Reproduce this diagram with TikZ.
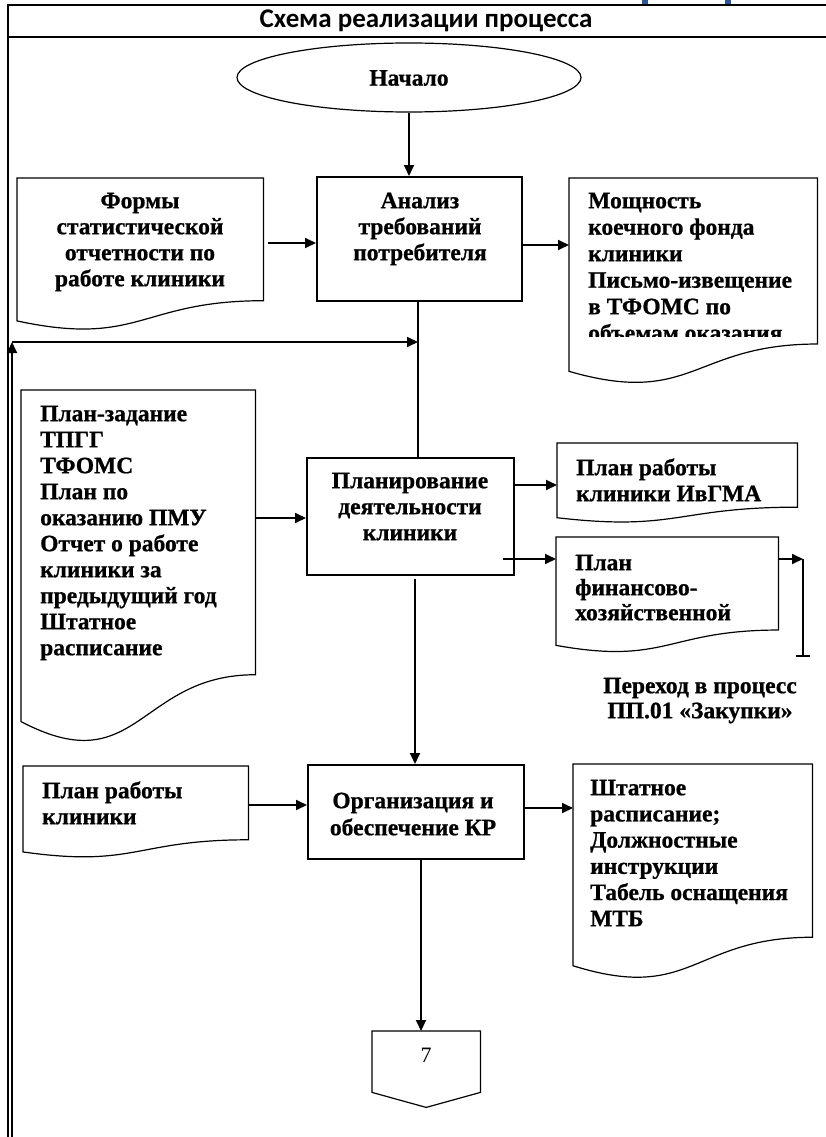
\documentclass[tikz,border=0pt]{standalone}
\usepackage{fontspec}
\setmainfont{Liberation Serif}[BoldFeatures={FakeBold=0.8}]
\newfontfamily\titlefont{Carlito}
\usetikzlibrary{arrows.meta,calc,shapes.geometric}
\definecolor{wordblue}{RGB}{47,85,151}
\newcommand{\tfont}[1]{\bfseries\fontsize{23.5}{#1}\selectfont\lineskiplimit=-30pt}
\newcommand{\fs}{\rule{0pt}{20pt}}
\tikzset{
 frame/.style={line width=2.2pt},
 conn/.style={line width=1.8pt},
 arr/.style={conn,-{Triangle[length=11pt,width=10pt]}},
 procbox/.style={draw,line width=1.5pt,inner sep=0pt},
 docline/.style={line width=1.2pt},
 tx/.style={inner sep=0pt,font=\tfont{26}},
}
\newcommand{\docshape}[5]{%
  \node[minimum width=#4pt,minimum height=#5pt,inner sep=0pt,anchor=north west] (#1) at (#2,#3) {};
  \draw[docline] (#1.north west) -- (#1.north east) -- ($(#1.north east)+(0,0.802*#5)$)
    .. controls ($(#1.north west)+(0.5*#4,0.802*#5)$) and ($(#1.north west)+(0.5*#4,1.107*#5)$) ..
    ($(#1.north west)+(0,0.934*#5)$) -- cycle;
}
\begin{document}
\begin{tikzpicture}[x=1pt,y=-1pt]
\useasboundingbox (0,0) rectangle (826,1137);
% blue fragments at top
\fill[wordblue] (642,0) rectangle (648,6);
\fill[wordblue] (725,0) rectangle (731,6);
% frame
\draw[frame] (826,5) -- (8,5) -- (8,1137);
\draw[frame] (8,37) -- (826,37);
\node[font=\titlefont\bfseries\fontsize{27}{30}\selectfont,inner sep=0pt] (title) at (426,21) {Схема реализации процесса};

% start
\node[draw,ellipse,line width=1.2pt,minimum width=344pt,minimum height=69pt,inner sep=0pt] (start) at (409,77.5) {};
\node[tx] (startt) at (409,78) {Начало};

% Analysis
\node[procbox,minimum width=205pt,minimum height=124pt,anchor=north west] (an) at (316,176) {};
\node[tx,align=center,anchor=north] (ant) at (420,188) {\fs Анализ\\требований\\потребителя};
\draw[arr] (start.south) -- (start.south |- an.north);

% doc1
\docshape{d1}{17}{178}{246}{153}
\node[tx,align=center,anchor=north] (d1t) at (140,188) {\fs Формы\\статистической\\отчетности по\\работе клиники};
\coordinate (a1s) at (268,243);
\draw[arr] (a1s) -- (a1s -| an.west);

% doc2
\docshape{d2}{569}{178}{248}{207}
\begin{scope}
\clip (569,178) rectangle (817,336);
\node[tx,align=left,anchor=north west,font=\tfont{26.5}] (d2t) at (588,188) {\fs Мощность\\коечного фонда\\клиники\\Письмо-извещение\\в ТФОМС по\\объемам оказания};
\end{scope}
\coordinate (a2s) at (an.east |- 0,245);
\draw[arr] (a2s) -- (a2s -| d2.west);

% feedback line
\coordinate (fbBot) at (12,1137);
\coordinate (fbTop) at (12,342);
\draw[arr] (fbBot) -- (fbTop);
\coordinate (vTop) at (418,300);
\coordinate (fbEnd) at (vTop |- fbTop);
\draw[arr] (fbTop) -- (fbEnd);

% Planning
\node[procbox,minimum width=207pt,minimum height=117pt,anchor=north west] (pl) at (306,457) {};
\node[tx,align=center,anchor=north] (plt) at (410,468) {\fs Планирование\\деятельности\\клиники};
\coordinate (vBot) at (vTop |- pl.north);
\draw[conn] (vTop) -- (vBot);

% doc3
\docshape{d3}{21}{390}{234}{355}
\node[tx,align=left,anchor=north west] (d3t) at (40,401) {\fs План-задание\\ТПГГ\\ТФОМС\\План по\\оказанию ПМУ\\Отчет о работе\\клиники за\\предыдущий год\\Штатное\\расписание};
\coordinate (a3s) at (255,518);
\draw[arr] (a3s) -- (a3s -| pl.west);

% doc4
\docshape{d4}{557}{443}{240}{80}
\node[tx,align=left,anchor=north west] (d4t) at (576,455) {\fs План работы\\клиники ИвГМА};
\coordinate (a4s) at (pl.east |- 0,485);
\draw[arr] (a4s) -- (a4s -| d4.west);

% doc5
\docshape{d5}{556}{537}{222}{116}
\node[tx,align=left,anchor=north west,font=\tfont{25}] (d5t) at (575,550) {\fs План\\финансово-\\хозяйственной};
\coordinate (a5s) at (503,559);
\draw[arr] (a5s) -- (a5s -| d5.west);
\coordinate (jmp) at (803,559);
\coordinate (jmpEnd) at (803,657);
\draw[arr] (d5.east |- jmp) -- (jmp);
\draw[conn,-{Bar[width=14pt]}] (jmp) -- (jmpEnd);
\node[tx,align=center,anchor=north,font=\tfont{25}] (jmpt) at (700,673) {\fs Переход в процесс\\ПП.01 «Закупки»};

% Organisation
\node[procbox,minimum width=216pt,minimum height=94pt,anchor=north west] (org) at (307,764) {};
\node[tx,align=center,anchor=north,font=\tfont{27}] (orgt) at (413,788) {\fs Организация и\\обеспечение КР};
\coordinate (a6s) at (415,579);
\draw[arr] (a6s) -- (a6s |- org.north);

% doc6
\docshape{d6}{23}{766}{225}{92}
\node[tx,align=left,anchor=north west] (d6t) at (42,778) {\fs План работы\\клиники};
\coordinate (a7s) at (d6.east |- 0,805);
\draw[arr] (a7s) -- (a7s -| org.west);

% doc7
\docshape{d7}{573}{764}{239}{216}
\node[tx,align=left,anchor=north west,font=\tfont{26.2}] (d7t) at (590,775) {\fs Штатное\\расписание;\\Должностные\\инструкции\\Табель оснащения\\МТБ};
\coordinate (a8s) at (org.east |- 0,808);
\draw[arr] (a8s) -- (a8s -| d7.west);

% connector 7
\node[minimum width=108pt,minimum height=61pt,inner sep=0pt,anchor=north west] (p7) at (372,1031) {};
\draw[docline] (p7.north west) -- (p7.north east) -- (p7.south east) -- ($(p7.south)+(0,15)$) -- (p7.south west) -- cycle;
\node[font=\fontsize{22}{24}\selectfont,inner sep=0pt] (p7t) at (426,1055) {7};
\coordinate (a9s) at (421,858);
\draw[arr] (a9s) -- (a9s |- p7.north);
\end{tikzpicture}
\end{document}
